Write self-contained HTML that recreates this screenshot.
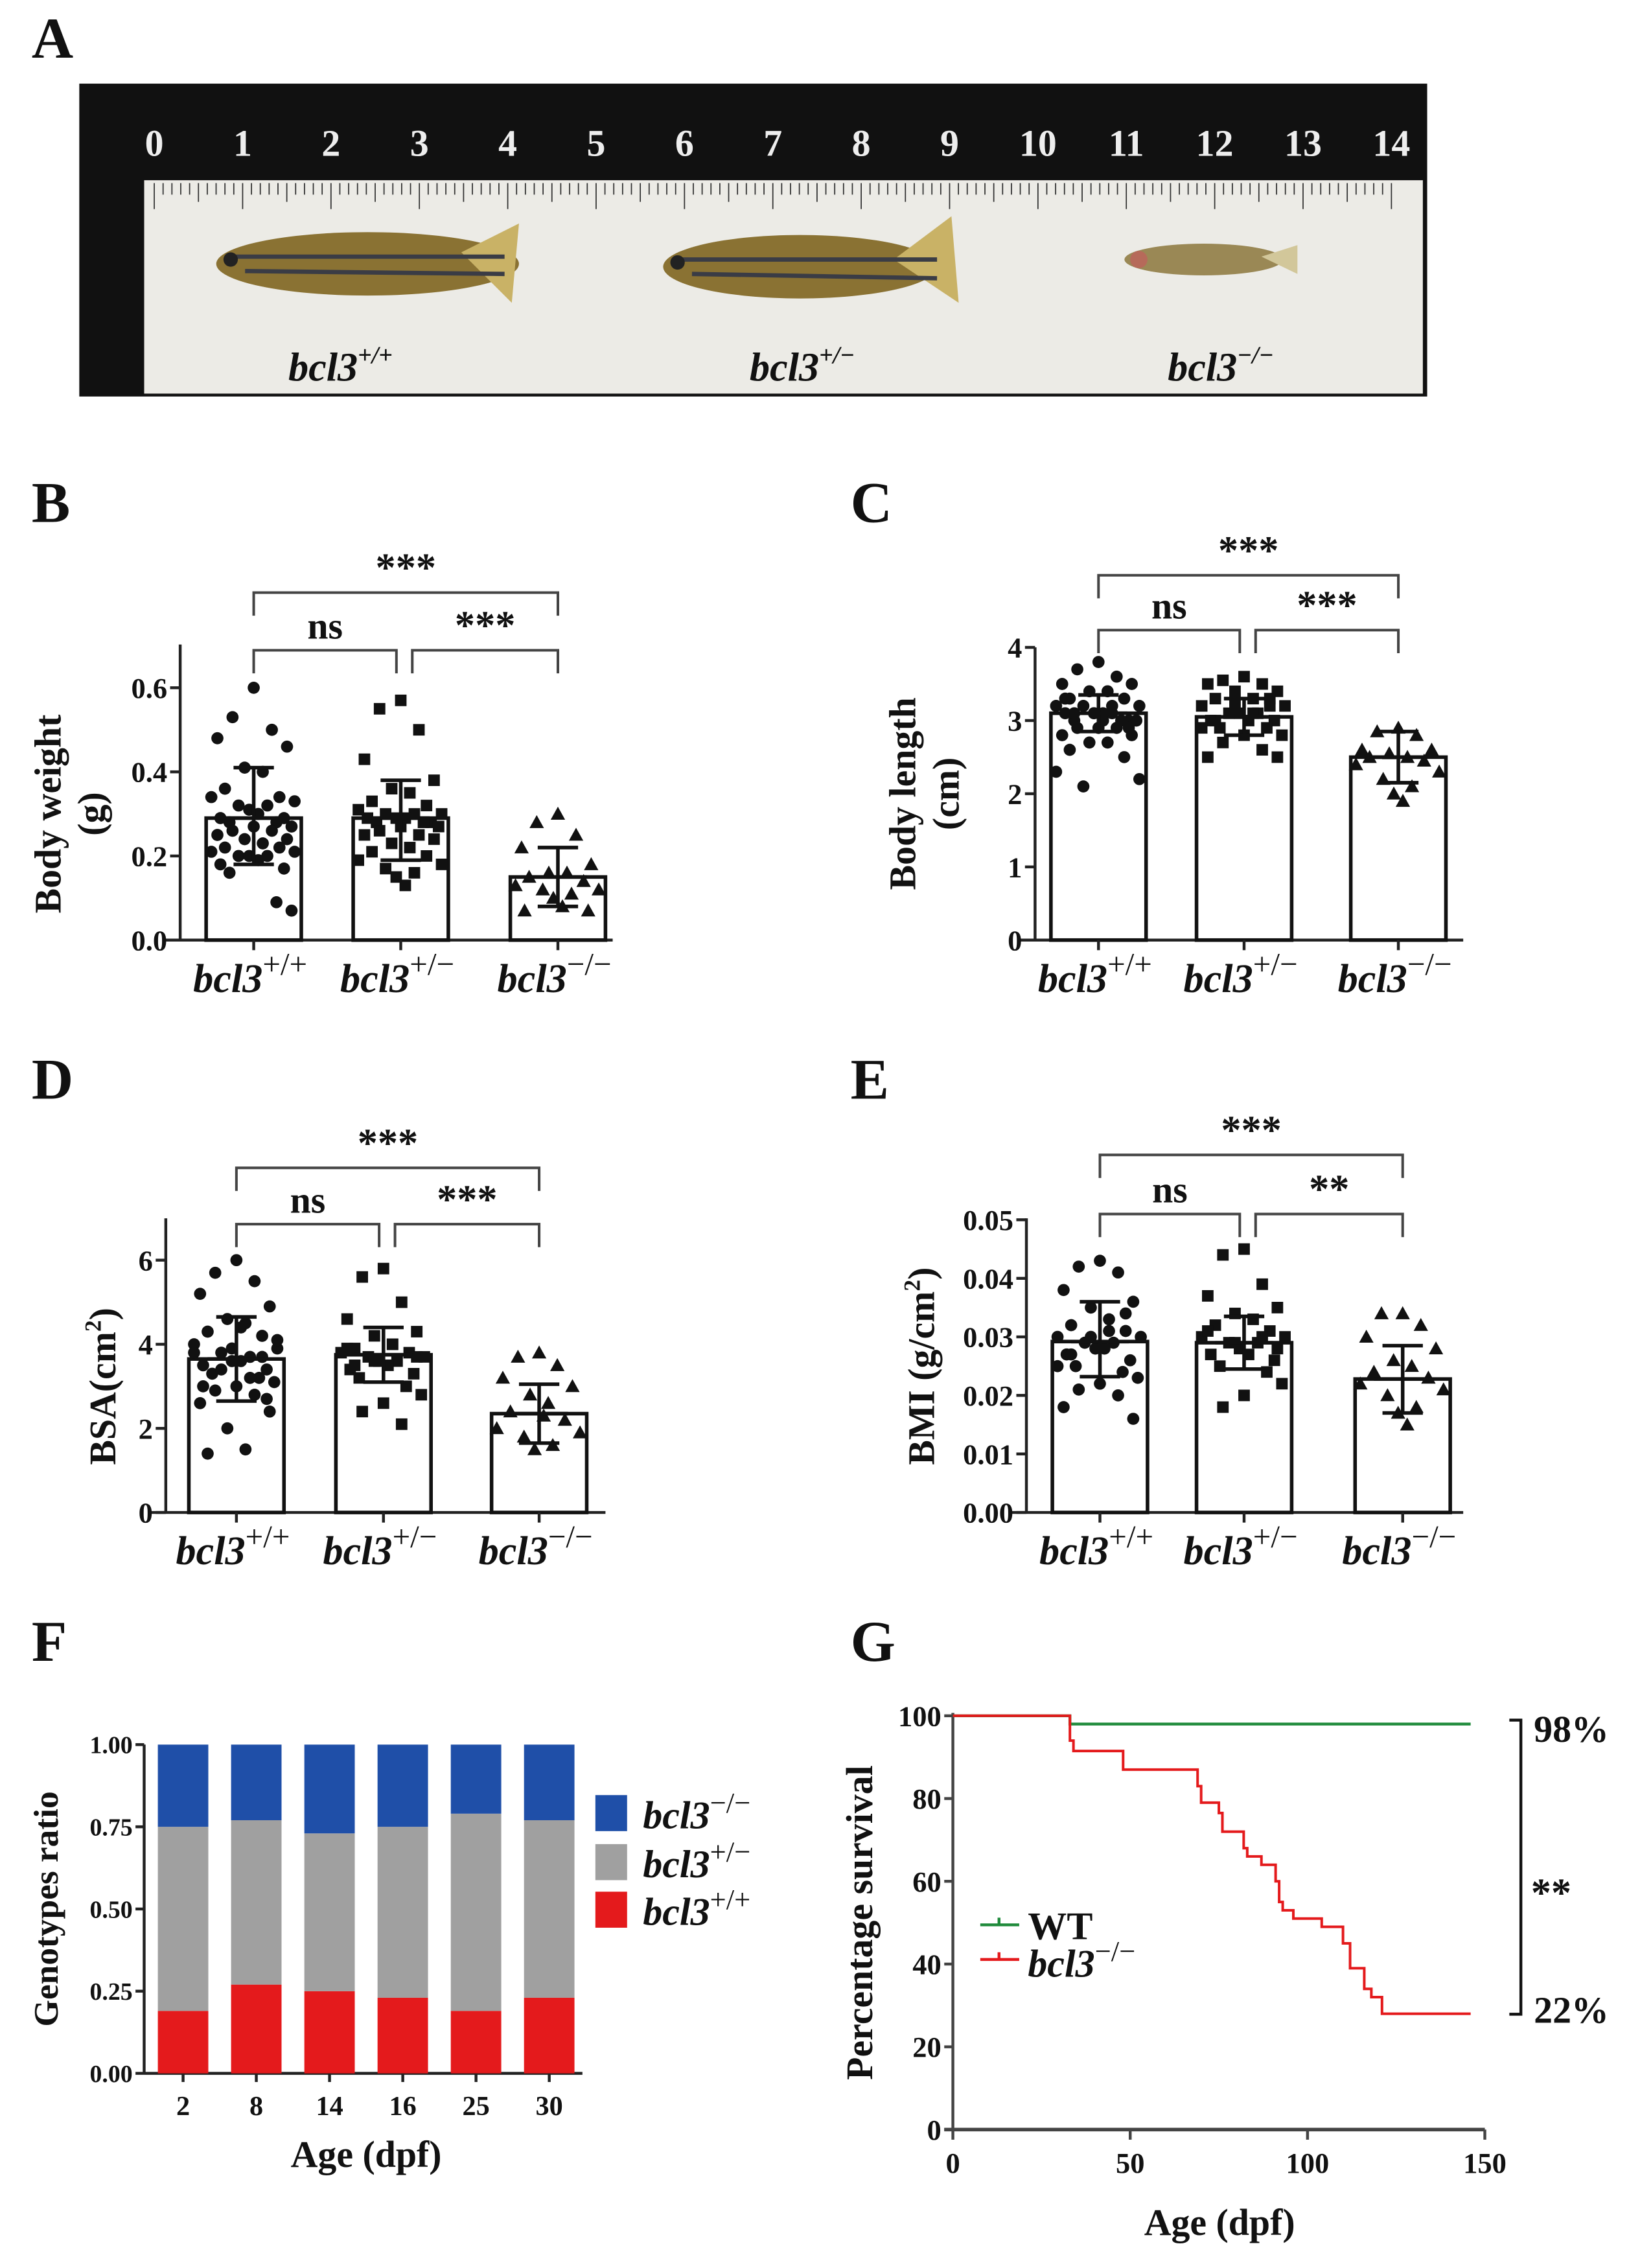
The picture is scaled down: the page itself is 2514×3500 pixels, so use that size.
<!DOCTYPE html>
<html><head><meta charset="utf-8"><style>
html,body{margin:0;padding:0;background:#fff}
svg{display:block}
text{font-family:"Liberation Serif",serif;font-weight:bold;fill:#111}
</style></head><body>
<svg id="fig" width="2514" height="3500" viewBox="0 0 1130 1573" preserveAspectRatio="none" xmlns="http://www.w3.org/2000/svg">
<g>
<text x="22" y="40" font-size="40">A</text>
<rect x="55" y="58" width="935" height="217" fill="#111"/>
<rect x="100" y="125" width="887" height="148" fill="#ecebe6"/>
<g id="rulerNums"></g>
<g id="rulerTicks"></g>
<g>
<ellipse cx="255" cy="183" rx="105" ry="22" fill="#8a7233"/>
<path d="M320 175 L360 155 L355 210 Z" fill="#c9b266"/>
<line x1="160" y1="178" x2="350" y2="178" stroke="#3a3c45" stroke-width="3"/>
<line x1="170" y1="188" x2="350" y2="190" stroke="#3a3c45" stroke-width="3"/>
<circle cx="160" cy="180" r="5" fill="#222"/></g>
<g>
<ellipse cx="555" cy="185" rx="95" ry="22" fill="#8a7233"/>
<path d="M620 180 L660 150 L665 210 Z" fill="#c9b266"/>
<line x1="470" y1="180" x2="650" y2="180" stroke="#3a3c45" stroke-width="3"/>
<line x1="480" y1="190" x2="650" y2="193" stroke="#3a3c45" stroke-width="3"/>
<circle cx="470" cy="182" r="5" fill="#222"/></g>
<g>
<ellipse cx="835" cy="180" rx="55" ry="11" fill="#9a8855"/>
<path d="M875 178 L900 170 L900 190 Z" fill="#d2c79a"/>
<circle cx="790" cy="180" r="6" fill="#b66a5a"/></g>
<text x="200" y="264" font-size="28" font-style="italic">bcl3<tspan font-size="17" dy="-12">+/+</tspan></text>
<text x="520" y="264" font-size="28" font-style="italic">bcl3<tspan font-size="17" dy="-12">+/−</tspan></text>
<text x="810" y="264" font-size="28" font-style="italic">bcl3<tspan font-size="17" dy="-12">−/−</tspan></text>
</g>
<g id="charts"></g>
</svg>
<script>
// ---- data ----
const genotypes = ["+/+", "+/−", "−/−"];
const bMeans = [0.29, 0.29, 0.15];
const bSdHi = [0.41, 0.38, 0.22];
const bSdLo = [0.18, 0.19, 0.08];
const bWT = [0.60,0.53,0.50,0.48,0.46,0.41,0.40,0.36,0.34,0.34,0.33,0.32,0.32,0.31,0.30,0.29,0.29,0.28,0.28,0.27,0.27,0.26,0.26,0.25,0.24,0.24,0.23,0.22,0.22,0.21,0.21,0.20,0.20,0.20,0.19,0.18,0.17,0.16,0.09,0.07];
const bHet = [0.57,0.55,0.50,0.43,0.38,0.36,0.35,0.33,0.32,0.31,0.30,0.30,0.30,0.29,0.29,0.29,0.28,0.28,0.28,0.27,0.27,0.26,0.25,0.25,0.24,0.23,0.22,0.21,0.20,0.19,0.18,0.17,0.16,0.15,0.13];
const bKO = [0.30,0.28,0.25,0.22,0.18,0.16,0.16,0.15,0.14,0.13,0.12,0.12,0.11,0.10,0.08,0.07,0.07];
const bTicks = [0.0, 0.2, 0.4, 0.6];

const cMeans = [3.1, 3.05, 2.5];
const cSdHi = [3.35, 3.3, 2.85];
const cSdLo = [2.85, 2.8, 2.15];
const cWT = [3.8,3.7,3.6,3.5,3.5,3.4,3.4,3.3,3.3,3.2,3.2,3.2,3.1,3.1,3.1,3.1,3.0,3.0,3.0,3.0,2.9,2.9,2.9,2.8,2.8,2.7,2.7,2.6,2.5,2.3,2.2,2.1,3.2,3.1,3.0,3.3,2.9,3.1];
const cHet = [3.6,3.55,3.5,3.5,3.4,3.4,3.3,3.3,3.2,3.2,3.2,3.1,3.1,3.1,3.0,3.0,3.0,2.9,2.9,2.8,2.8,2.7,2.6,2.5,2.5,3.2,3.1,3.0,3.3,2.9];
const cKO = [2.9,2.85,2.8,2.6,2.6,2.55,2.5,2.5,2.45,2.4,2.3,2.2,2.1,2.0,1.9];
const cTicks = [0, 1, 2, 3, 4];

const dMeans = [3.65, 3.75, 2.35];
const dSdHi = [4.65, 4.4, 3.05];
const dSdLo = [2.65, 3.1, 1.65];
const dWT = [6.0,5.7,5.5,5.2,4.9,4.6,4.5,4.3,4.2,4.0,3.9,3.8,3.7,3.6,3.6,3.5,3.4,3.3,3.2,3.1,3.0,2.9,2.8,2.6,2.4,2.0,1.5,1.4,3.7,3.8,4.1,3.4,3.2,3.9,4.4,3.0,2.7];
const dHet = [5.8,5.6,5.0,4.6,4.3,4.2,4.0,3.9,3.8,3.8,3.7,3.7,3.6,3.6,3.5,3.4,3.3,3.2,3.0,2.8,2.6,2.4,2.1,3.9,3.7,3.6,4.0,3.5];
const dKO = [3.8,3.7,3.5,3.2,3.0,2.8,2.6,2.4,2.2,2.0,1.9,1.8,1.6,1.5,2.3];
const dTicks = [0, 2, 4, 6];

const eMeans = [0.0292, 0.029, 0.0228];
const eSdHi = [0.036, 0.0335, 0.0285];
const eSdLo = [0.0232, 0.0245, 0.017];
const eWT = [0.043,0.042,0.041,0.038,0.036,0.035,0.033,0.032,0.031,0.030,0.030,0.029,0.029,0.028,0.028,0.027,0.026,0.025,0.024,0.023,0.022,0.021,0.020,0.018,0.016,0.030,0.031,0.027,0.034,0.025];
const eHet = [0.045,0.044,0.039,0.037,0.035,0.034,0.033,0.032,0.031,0.030,0.030,0.029,0.029,0.028,0.027,0.027,0.026,0.025,0.024,0.022,0.020,0.018,0.030,0.031,0.028,0.029];
const eKO = [0.034,0.034,0.032,0.030,0.028,0.026,0.025,0.024,0.023,0.022,0.021,0.020,0.018,0.017,0.015];
const eTicks = [0.00, 0.01, 0.02, 0.03, 0.04, 0.05];

const fAges = ["2", "8", "14", "16", "25", "30"];
const fWT = [0.19, 0.27, 0.25, 0.23, 0.19, 0.23];
const fHet = [0.56, 0.50, 0.48, 0.52, 0.60, 0.54];
const fKO = [0.25, 0.23, 0.27, 0.25, 0.21, 0.23];
const fTicks = ["0.00", "0.25", "0.50", "0.75", "1.00"];

const gWTTimes = [0, 33, 146];
const gWTPct = [100, 98, 98];
const gKOTimes = [0, 33, 34, 48, 69, 70, 75, 76, 82, 83, 87, 91, 92, 93, 96, 104, 110, 112, 116, 118, 121, 146];
const gKOPct = [100, 94, 91.5, 87, 83, 79, 76.5, 72, 68, 66, 64, 60, 55, 53, 51, 49, 45, 39, 34, 32, 28, 28];
const gTicksY = [0, 20, 40, 60, 80, 100];
const gTicksX = [0, 50, 100, 150];

// ---- helpers ----
const NS = "http://www.w3.org/2000/svg";
const root = document.getElementById("charts");
function mk(parent, tag, attrs, txt) {
  const e = document.createElementNS(NS, tag);
  for (const k in attrs) e.setAttribute(k, attrs[k]);
  if (txt !== undefined) e.textContent = txt;
  parent.appendChild(e);
  return e;
}
const jit = [0, -14, 12, -24, 22, -6, 6, -19, 17, -28, 27, -10, 9, -3, 3, -22, 20, -16, 15, 25];

// ruler
const rn = document.getElementById("rulerNums");
for (let i = 0; i <= 14; i++) {
  const t = mk(rn, "text", {x: 107 + i * 61.3, y: 108, "font-size": 26, "font-family": "Liberation Sans", "text-anchor": "middle", style: "fill:#eee"}, String(i));
  
  
}
const rt = document.getElementById("rulerTicks");
for (let i = 0; i <= 140; i++) {
  const x = 107 + i * 6.13;
  const l = mk(rt, "line", {x1: x, y1: 127, x2: x, y2: 127 + (i % 10 === 0 ? 18 : i % 5 === 0 ? 13 : 8), stroke: "#333", "stroke-width": 0.8});
  
  
}

function barPanel(p) {
  const g = mk(root, "g", {});
  
  
  const y = v => p.y0 - (v - p.vmin) / (p.vmax - p.vmin) * (p.y0 - p.y1);
  const lab = mk(g, "text", {x: p.lx, y: p.ly, "font-size": 40}, p.letter);
  
  
  // axes
  const ax = mk(g, "line", {x1: p.ax, y1: p.y0, x2: p.ax, y2: p.top, stroke: "#222", "stroke-width": 2});
  
  
  const xa = mk(g, "line", {x1: p.ax - 10, y1: p.y0, x2: p.xend, y2: p.y0, stroke: "#222", "stroke-width": 2});
  
  
  p.ticks.forEach(t => {
    const tl = mk(g, "line", {x1: p.ax - 7, y1: y(t), x2: p.ax, y2: y(t), stroke: "#222", "stroke-width": 2});
    
    
    const tt = mk(g, "text", {x: p.ax - 9, y: y(t) + 7, "font-size": 20, "text-anchor": "end"}, t.toFixed(p.dec));
    
    
  });
  const yt = mk(g, "text", {transform: `translate(${p.ytx},${(p.y0 + p.y1) / 2}) rotate(-90)`, "font-size": 26, "text-anchor": "middle"});
  
  
  yt.innerHTML = p.ytitle;
  const pts = [p.wt, p.het, p.ko];
  const cx = p.centers;
  for (let i = 0; i < 3; i++) {
    const b = mk(g, "rect", {x: cx[i] - 33, y: y(p.means[i]), width: 66, height: p.y0 - y(p.means[i]), fill: "#fff", stroke: "#111", "stroke-width": 2.5});
    
    
    pts[i].forEach((v, k) => {
      const px = cx[i] + jit[k % jit.length] * 1.05;
      let m;
      if (i === 0) m = mk(g, "circle", {cx: px, cy: y(v), r: 4.2, fill: "#111"});
      else if (i === 1) m = mk(g, "rect", {x: px - 4, y: y(v) - 4, width: 8, height: 8, fill: "#111"});
      else m = mk(g, "path", {d: `M${px} ${y(v) - 5} L${px + 5} ${y(v) + 4} L${px - 5} ${y(v) + 4} Z`, fill: "#111"});
      
      
    });
    const eb = mk(g, "path", {d: `M${cx[i]} ${y(p.sdLo[i])} V${y(p.sdHi[i])} M${cx[i] - 14} ${y(p.sdHi[i])} H${cx[i] + 14} M${cx[i] - 14} ${y(p.sdLo[i])} H${cx[i] + 14} M${cx[i] - 20} ${y(p.means[i])} H${cx[i] + 20}`, stroke: "#111", "stroke-width": 2.5, fill: "none"});
    
    
    const xt = mk(g, "line", {x1: cx[i], y1: p.y0, x2: cx[i], y2: p.y0 + 7, stroke: "#222", "stroke-width": 2});
    
    
    const xl = mk(g, "text", {x: cx[i] - 42, y: p.y0 + 36, "font-size": 28, "font-style": "italic"});
    
    
    xl.innerHTML = `bcl3<tspan font-size="22" font-style="normal" font-weight="normal" dy="-12">${genotypes[i]}</tspan>`;
  }
  // significance brackets
  const bt = p.bTop, bm = p.bMid;
  const brs = [[cx[0], cx[2], bt, "***"], [cx[0], cx[1] - 3, bm, "ns"], [cx[1] + 8, cx[2], bm, p.sig23]];
  brs.forEach(([a, b, yy, s]) => {
    const br = mk(g, "path", {d: `M${a} ${yy + 16} V${yy} H${b} V${yy + 16}`, stroke: "#444", "stroke-width": 1.8, fill: "none"});
    
    
    const st = mk(g, "text", {x: (a + b) / 2, y: yy - 8, "font-size": s === "ns" ? 26 : 28, "font-weight": s === "ns" ? "normal" : "bold", "text-anchor": "middle"}, s);
    
    
  });
}

barPanel({name: "panel-b", letter: "B", lx: 22, ly: 362, ax: 125, top: 447, y0: 652, y1: 477, vmin: 0, vmax: 0.6, xend: 425, ticks: bTicks, dec: 1,
  ytx: 42, ytitle: 'Body weight<tspan x="0" dy="30">(g)</tspan>', means: bMeans, sdHi: bSdHi, sdLo: bSdLo, wt: bWT, het: bHet, ko: bKO,
  centers: [176, 278, 387], bTop: 411, bMid: 451, sig23: "***"});
barPanel({name: "panel-c", letter: "C", lx: 590, ly: 362, ax: 718, top: 449, y0: 652, y1: 449, vmin: 0, vmax: 4, xend: 1015, ticks: cTicks, dec: 0,
  ytx: 635, ytitle: 'Body length<tspan x="0" dy="30">(cm)</tspan>', means: cMeans, sdHi: cSdHi, sdLo: cSdLo, wt: cWT, het: cHet, ko: cKO,
  centers: [762, 863, 970], bTop: 399, bMid: 437, sig23: "***"});
barPanel({name: "panel-d", letter: "D", lx: 22, ly: 762, ax: 115, top: 845, y0: 1049, y1: 874, vmin: 0, vmax: 6, xend: 420, ticks: dTicks, dec: 0,
  ytx: 80, ytitle: 'BSA(cm<tspan font-size="16" dy="-10">2</tspan><tspan dy="10">)</tspan>', means: dMeans, sdHi: dSdHi, sdLo: dSdLo, wt: dWT, het: dHet, ko: dKO,
  centers: [164, 266, 374], bTop: 810, bMid: 849, sig23: "***"});
barPanel({name: "panel-e", letter: "E", lx: 590, ly: 762, ax: 712, top: 845, y0: 1049, y1: 846, vmin: 0, vmax: 0.05, xend: 1015, ticks: eTicks, dec: 2,
  ytx: 648, ytitle: 'BMI (g/cm<tspan font-size="16" dy="-10">2</tspan><tspan dy="10">)</tspan>', means: eMeans, sdHi: eSdHi, sdLo: eSdLo, wt: eWT, het: eHet, ko: eKO,
  centers: [763, 863, 973], bTop: 801, bMid: 842, sig23: "**"});

// ---- panel F ----
(function () {
  const g = mk(root, "g", {});
  
  
  const y0 = 1438, y1 = 1210, ax = 100;
  const y = v => y0 - v * (y0 - y1);
  const lab = mk(g, "text", {x: 22, y: 1152, "font-size": 40}, "F");
  
  
  const ya = mk(g, "line", {x1: ax, y1: y0, x2: ax, y2: y1, stroke: "#222", "stroke-width": 2});
  
  
  const xa = mk(g, "line", {x1: ax, y1: y0, x2: 404, y2: y0, stroke: "#222", "stroke-width": 2});
  
  
  fTicks.forEach(t => {
    const tl = mk(g, "line", {x1: ax - 6, y1: y(+t), x2: ax, y2: y(+t), stroke: "#222", "stroke-width": 2});
    
    
    const tt = mk(g, "text", {x: ax - 8, y: y(+t) + 6, "font-size": 17, "text-anchor": "end"}, t);
    
    
  });
  const yt = mk(g, "text", {transform: `translate(40,${(y0 + y1) / 2}) rotate(-90)`, "font-size": 24, "text-anchor": "middle"}, "Genotypes ratio");
  
  
  fAges.forEach((a, i) => {
    const cx = 127 + i * 50.8;
    const r1 = mk(g, "rect", {x: cx - 17.5, y: y(fWT[i]), width: 35, height: y0 - y(fWT[i]), fill: "#e41a1c"});
    
    
    const r2 = mk(g, "rect", {x: cx - 17.5, y: y(fWT[i] + fHet[i]), width: 35, height: y(fWT[i]) - y(fWT[i] + fHet[i]), fill: "#a0a0a0"});
    
    
    const r3 = mk(g, "rect", {x: cx - 17.5, y: y(fWT[i] + fHet[i] + fKO[i]), width: 35, height: y(fWT[i] + fHet[i]) - y(fWT[i] + fHet[i] + fKO[i]), fill: "#1f4fa8"});
    
    
    const xt = mk(g, "line", {x1: cx, y1: y0, x2: cx, y2: y0 + 6, stroke: "#222", "stroke-width": 2});
    
    
    const xl = mk(g, "text", {x: cx, y: y0 + 29, "font-size": 19, "text-anchor": "middle"}, a);
    
    
  });
  const xtit = mk(g, "text", {x: 254, y: 1503, "font-size": 26, "text-anchor": "middle"}, "Age (dpf)");
  
  
  const leg = [["#1f4fa8", "−/−", 1245], ["#a0a0a0", "+/−", 1279], ["#e41a1c", "+/+", 1312]];
  leg.forEach(([c, s, yy]) => {
    const sq = mk(g, "rect", {x: 413, y: yy, width: 22, height: 25, fill: c});
    
    
    const lt = mk(g, "text", {x: 446, y: yy + 23, "font-size": 27, "font-style": "italic"});
    
    
    lt.innerHTML = `bcl3<tspan font-size="20" font-style="normal" font-weight="normal" dy="-11">${s}</tspan>`;
  });
})();

// ---- panel G ----
(function () {
  const g = mk(root, "g", {});
  
  
  const x0 = 661, y0 = 1477;
  const x = d => x0 + d / 150 * (1030 - x0);
  const y = v => y0 - v / 100 * (y0 - 1190);
  const lab = mk(g, "text", {x: 590, y: 1152, "font-size": 40}, "G");
  
  
  const ya = mk(g, "line", {x1: x0, y1: y0, x2: x0, y2: 1188, stroke: "#444", "stroke-width": 2});
  
  
  const xa = mk(g, "line", {x1: x0 - 6, y1: y0, x2: 1030, y2: y0, stroke: "#444", "stroke-width": 2.5});
  
  
  gTicksY.forEach(t => {
    const tl = mk(g, "line", {x1: x0 - 6, y1: y(t), x2: x0, y2: y(t), stroke: "#444", "stroke-width": 2});
    
    
    const tt = mk(g, "text", {x: x0 - 8, y: y(t) + 7, "font-size": 20, "text-anchor": "end"}, String(t));
    
    
  });
  gTicksX.forEach(t => {
    const tl = mk(g, "line", {x1: x(t), y1: y0, x2: x(t), y2: y0 + 7, stroke: "#444", "stroke-width": 2});
    
    
    const tt = mk(g, "text", {x: x(t), y: y0 + 30, "font-size": 20, "text-anchor": "middle"}, String(t));
    
    
  });
  const yt = mk(g, "text", {transform: `translate(605,${(y0 + 1190) / 2}) rotate(-90)`, "font-size": 26, "text-anchor": "middle"}, "Percentage survival");
  
  
  const xt = mk(g, "text", {x: 846, y: 1550, "font-size": 26, "text-anchor": "middle"}, "Age (dpf)");
  
  
  function step(times, pct) {
    let d = `M${x(times[0])} ${y(pct[0])}`;
    for (let i = 1; i < times.length; i++) d += ` H${x(times[i])} V${y(pct[i])}`;
    return d;
  }
  const wl = mk(g, "path", {d: step(gWTTimes, gWTPct), stroke: "#1e8a3a", "stroke-width": 2, fill: "none"});
  
  
  const kl = mk(g, "path", {d: step(gKOTimes, gKOPct), stroke: "#e41a1c", "stroke-width": 1.8, fill: "none"});
  
  
  const l1 = mk(g, "path", {d: "M680 1335 H707 M693 1330 V1335", stroke: "#1e8a3a", "stroke-width": 2, fill: "none"});
  
  
  const l2 = mk(g, "path", {d: "M680 1359 H707 M693 1354 V1359", stroke: "#e41a1c", "stroke-width": 2, fill: "none"});
  
  
  const t1 = mk(g, "text", {x: 713, y: 1345, "font-size": 27}, "WT");
  
  
  const t2 = mk(g, "text", {x: 713, y: 1371, "font-size": 27, "font-style": "italic"});
  
  
  t2.innerHTML = 'bcl3<tspan font-size="20" font-style="normal" font-weight="normal" dy="-11">−/−</tspan>';
  const br = mk(g, "path", {d: "M1047 1193 H1055 V1397 H1047", stroke: "#111", "stroke-width": 2, fill: "none"});
  
  
  const p1 = mk(g, "text", {x: 1064, y: 1208, "font-size": 26}, "98%");
  
  
  const p2 = mk(g, "text", {x: 1064, y: 1403, "font-size": 26}, "22%");
  
  
  const p3 = mk(g, "text", {x: 1062, y: 1322, "font-size": 28}, "**");
  
  
})();
</script>
</body></html>
